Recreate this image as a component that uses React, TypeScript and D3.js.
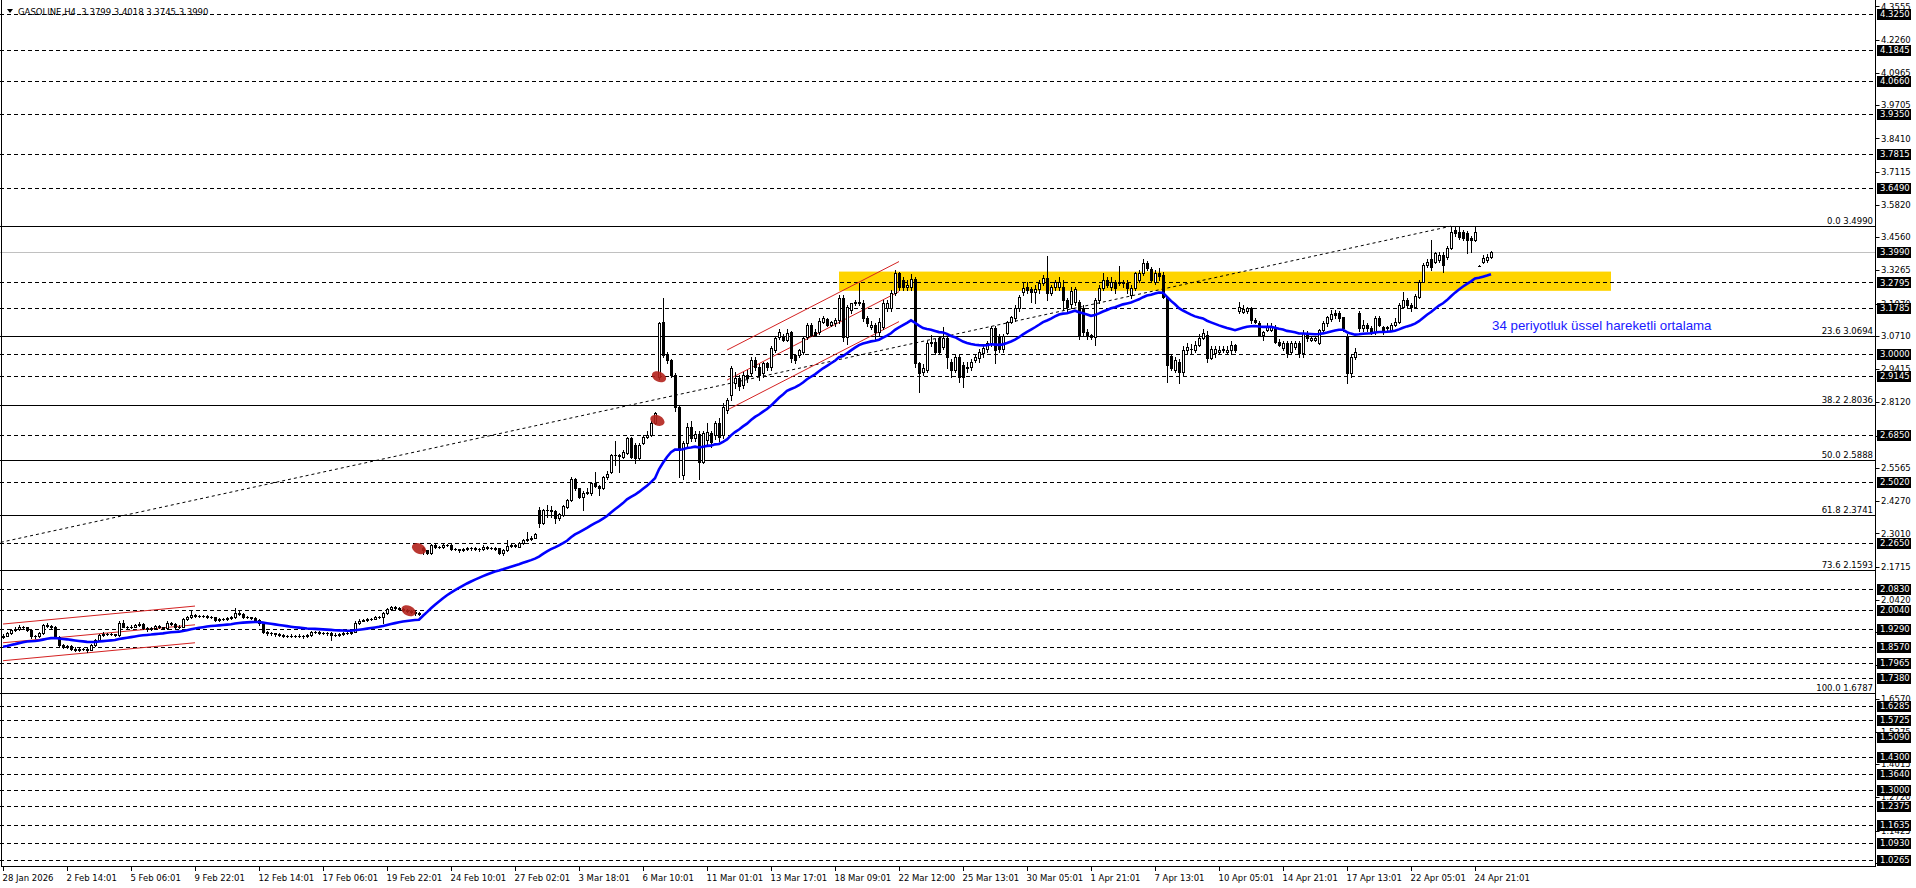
import * as d3 from 'd3';

type Bar = [number, number, number, number]; // open, high, low, close

// 28 Jan - 23 Feb (H4)
const candlesJanFeb: Bar[] = [
  [1.896, 1.908, 1.892, 1.903], [1.903, 1.916, 1.9, 1.912], [1.912, 1.929, 1.909, 1.925], [1.925, 1.935, 1.92, 1.927],
  [1.927, 1.944, 1.924, 1.938], [1.938, 1.942, 1.928, 1.935], [1.935, 1.938, 1.921, 1.925], [1.925, 1.928, 1.895, 1.9],
  [1.9, 1.906, 1.893, 1.901], [1.901, 1.916, 1.898, 1.912], [1.912, 1.95, 1.91, 1.944], [1.944, 1.952, 1.936, 1.941],
  [1.941, 1.945, 1.93, 1.936], [1.936, 1.939, 1.895, 1.899], [1.899, 1.902, 1.862, 1.866], [1.866, 1.87, 1.853, 1.86],
  [1.86, 1.867, 1.855, 1.862], [1.862, 1.866, 1.848, 1.852], [1.852, 1.857, 1.843, 1.848], [1.848, 1.853, 1.843, 1.849],
  [1.849, 1.856, 1.845, 1.851], [1.851, 1.855, 1.837, 1.848], [1.848, 1.87, 1.845, 1.866], [1.866, 1.89, 1.864, 1.886],
  [1.886, 1.91, 1.884, 1.905], [1.905, 1.915, 1.902, 1.91], [1.91, 1.914, 1.904, 1.908], [1.908, 1.913, 1.904, 1.908],
  [1.908, 1.911, 1.9, 1.905], [1.905, 1.958, 1.903, 1.951], [1.951, 1.965, 1.935, 1.938], [1.938, 1.942, 1.93, 1.935],
  [1.935, 1.944, 1.932, 1.938], [1.938, 1.95, 1.935, 1.944], [1.944, 1.955, 1.94, 1.948], [1.948, 1.951, 1.928, 1.931],
  [1.931, 1.935, 1.92, 1.927], [1.927, 1.937, 1.924, 1.931], [1.931, 1.946, 1.928, 1.94], [1.94, 1.944, 1.931, 1.935],
  [1.935, 1.938, 1.927, 1.931], [1.931, 1.958, 1.928, 1.953], [1.953, 1.957, 1.944, 1.948], [1.948, 1.951, 1.934, 1.938],
  [1.938, 1.943, 1.933, 1.938], [1.938, 1.97, 1.936, 1.966], [1.966, 1.979, 1.963, 1.974], [1.974, 2.003, 1.97, 1.983],
  [1.983, 1.986, 1.975, 1.979], [1.979, 1.984, 1.975, 1.979], [1.979, 1.984, 1.974, 1.979], [1.979, 1.983, 1.973, 1.977],
  [1.977, 1.98, 1.97, 1.974], [1.974, 1.977, 1.96, 1.964], [1.964, 1.97, 1.961, 1.966], [1.966, 1.971, 1.962, 1.966],
  [1.966, 1.974, 1.963, 1.97], [1.97, 1.978, 1.966, 1.974], [1.974, 2.009, 1.971, 1.992], [1.992, 1.997, 1.983, 1.987],
  [1.987, 1.99, 1.973, 1.977], [1.977, 1.98, 1.97, 1.974], [1.974, 1.977, 1.967, 1.971], [1.971, 1.974, 1.96, 1.964],
  [1.964, 1.967, 1.946, 1.951], [1.948, 1.95, 1.913, 1.918], [1.918, 1.921, 1.906, 1.912], [1.912, 1.917, 1.907, 1.912],
  [1.912, 1.914, 1.903, 1.909], [1.909, 1.912, 1.9, 1.906], [1.906, 1.909, 1.896, 1.903], [1.903, 1.907, 1.896, 1.903],
  [1.903, 1.908, 1.897, 1.903], [1.903, 1.907, 1.896, 1.903], [1.903, 1.908, 1.897, 1.903], [1.903, 1.906, 1.895, 1.901],
  [1.901, 1.91, 1.899, 1.905], [1.905, 1.922, 1.903, 1.918], [1.918, 1.921, 1.912, 1.916], [1.916, 1.919, 1.91, 1.914],
  [1.914, 1.917, 1.908, 1.912], [1.912, 1.917, 1.907, 1.912], [1.912, 1.915, 1.886, 1.905], [1.905, 1.912, 1.9, 1.907],
  [1.907, 1.914, 1.903, 1.909], [1.909, 1.916, 1.906, 1.912], [1.912, 1.917, 1.908, 1.912], [1.912, 1.922, 1.91, 1.918],
  [1.918, 1.958, 1.916, 1.953], [1.953, 1.966, 1.95, 1.961], [1.961, 1.968, 1.958, 1.964], [1.964, 1.97, 1.96, 1.966],
  [1.966, 1.973, 1.963, 1.969], [1.969, 1.978, 1.966, 1.974], [1.974, 1.981, 1.97, 1.977], [1.977, 1.996, 1.953, 1.992],
  [1.992, 2.01, 1.988, 2.005], [2.005, 2.02, 2.001, 2.013], [2.013, 2.018, 2.007, 2.012], [2.012, 2.015, 2.003, 2.008],
  [2.008, 2.011, 1.998, 2.003], [2.003, 2.006, 1.995, 2.0], [2.0, 2.003, 1.991, 1.996], [1.996, 2.0, 1.985, 1.99],
  [1.99, 1.995, 1.982, 1.987], [2.245, 2.25, 2.222, 2.235],
];

// 24 Feb - 6 Mar
const candlesFebMar: Bar[] = [
  [2.235, 2.238, 2.22, 2.226], [2.226, 2.26, 2.222, 2.256], [2.256, 2.26, 2.245, 2.249], [2.249, 2.253, 2.243, 2.247],
  [2.247, 2.259, 2.244, 2.255], [2.255, 2.261, 2.251, 2.256], [2.256, 2.259, 2.238, 2.242], [2.242, 2.245, 2.235, 2.239],
  [2.239, 2.242, 2.23, 2.237], [2.237, 2.245, 2.233, 2.24], [2.24, 2.248, 2.236, 2.243], [2.243, 2.248, 2.238, 2.243],
  [2.243, 2.247, 2.236, 2.241], [2.241, 2.245, 2.233, 2.239], [2.239, 2.255, 2.236, 2.25], [2.25, 2.252, 2.241, 2.246],
  [2.246, 2.25, 2.24, 2.245], [2.245, 2.248, 2.238, 2.242], [2.243, 2.246, 2.22, 2.223], [2.223, 2.24, 2.218, 2.236],
  [2.236, 2.276, 2.232, 2.252], [2.252, 2.26, 2.249, 2.255], [2.255, 2.259, 2.249, 2.254], [2.25, 2.267, 2.247, 2.263],
  [2.263, 2.28, 2.26, 2.276], [2.276, 2.306, 2.272, 2.279], [2.279, 2.29, 2.275, 2.285], [2.285, 2.303, 2.282, 2.299],
  [2.392, 2.405, 2.328, 2.34], [2.34, 2.398, 2.336, 2.392], [2.392, 2.412, 2.366, 2.392], [2.392, 2.408, 2.364, 2.39],
  [2.39, 2.393, 2.343, 2.36], [2.36, 2.382, 2.355, 2.377], [2.373, 2.412, 2.369, 2.408], [2.405, 2.436, 2.4, 2.431],
  [2.431, 2.52, 2.428, 2.512], [2.512, 2.518, 2.47, 2.477], [2.477, 2.48, 2.438, 2.444], [2.444, 2.466, 2.392, 2.46],
  [2.46, 2.477, 2.455, 2.461], [2.457, 2.5, 2.452, 2.496], [2.496, 2.54, 2.482, 2.486], [2.486, 2.49, 2.451, 2.477],
  [2.477, 2.525, 2.473, 2.52], [2.52, 2.545, 2.515, 2.533], [2.542, 2.612, 2.538, 2.607], [2.607, 2.661, 2.568, 2.607],
  [2.607, 2.612, 2.542, 2.604], [2.6, 2.627, 2.594, 2.62], [2.616, 2.677, 2.612, 2.672], [2.672, 2.676, 2.594, 2.6],
  [2.646, 2.652, 2.574, 2.594], [2.594, 2.652, 2.59, 2.646], [2.652, 2.683, 2.648, 2.678], [2.678, 2.7, 2.672, 2.684],
  [2.685, 2.738, 2.68, 2.733], [2.73, 2.775, 2.726, 2.769],
];

// 6 Mar - 27 Mar
const candlesMarch: Bar[] = [
  [2.912, 3.125, 2.905, 3.12], [3.127, 3.218, 2.99, 2.997], [2.997, 3.01, 2.965, 2.977], [2.977, 2.98, 2.91, 2.919],
  [2.919, 2.925, 2.78, 2.795], [2.795, 2.8, 2.52, 2.626], [2.53, 2.66, 2.515, 2.652], [2.652, 2.73, 2.64, 2.717],
  [2.717, 2.74, 2.66, 2.672], [2.672, 2.7, 2.66, 2.69], [2.69, 2.7, 2.515, 2.581], [2.581, 2.7, 2.575, 2.691],
  [2.665, 2.73, 2.65, 2.697], [2.691, 2.7, 2.64, 2.659], [2.685, 2.74, 2.67, 2.73], [2.73, 2.75, 2.66, 2.678],
  [2.685, 2.81, 2.675, 2.795], [2.782, 2.83, 2.77, 2.821], [2.841, 2.955, 2.82, 2.945], [2.887, 2.93, 2.87, 2.906],
  [2.906, 2.92, 2.86, 2.876], [2.88, 2.93, 2.87, 2.919], [2.919, 2.94, 2.89, 2.906], [2.925, 2.99, 2.92, 2.977],
  [2.977, 2.99, 2.94, 2.951], [2.951, 2.96, 2.9, 2.919], [2.925, 2.97, 2.91, 2.964], [2.964, 2.97, 2.94, 2.951],
  [2.951, 3.03, 2.94, 3.023], [3.016, 3.07, 3.01, 3.062], [3.068, 3.1, 3.06, 3.088], [3.071, 3.08, 3.05, 3.055],
  [3.055, 3.1, 3.05, 3.084], [3.088, 3.09, 2.97, 2.984], [2.997, 3.0, 2.965, 2.977], [2.997, 3.02, 2.99, 3.016],
  [3.01, 3.07, 3.0, 3.062], [3.068, 3.12, 3.06, 3.114], [3.114, 3.12, 3.07, 3.075], [3.088, 3.1, 3.07, 3.075],
  [3.088, 3.14, 3.08, 3.129], [3.127, 3.15, 3.12, 3.14], [3.136, 3.14, 3.11, 3.114], [3.114, 3.13, 3.11, 3.127],
  [3.12, 3.14, 3.11, 3.133], [3.133, 3.23, 3.12, 3.218], [3.218, 3.23, 3.05, 3.068], [3.068, 3.19, 3.04, 3.185],
  [3.172, 3.2, 3.16, 3.198], [3.205, 3.21, 3.19, 3.198], [3.198, 3.276, 3.19, 3.205], [3.198, 3.21, 3.13, 3.14],
  [3.14, 3.15, 3.11, 3.12], [3.107, 3.13, 3.1, 3.114], [3.114, 3.12, 3.06, 3.088], [3.088, 3.14, 3.07, 3.127],
  [3.107, 3.21, 3.1, 3.198], [3.179, 3.21, 3.17, 3.198], [3.179, 3.25, 3.17, 3.237], [3.237, 3.33, 3.23, 3.315],
  [3.315, 3.32, 3.25, 3.263], [3.289, 3.3, 3.25, 3.263], [3.263, 3.29, 3.25, 3.27], [3.263, 3.312, 3.25, 3.292],
  [3.292, 3.3, 2.95, 2.964], [2.964, 2.97, 2.853, 2.925], [2.932, 2.96, 2.92, 2.945], [2.938, 3.05, 2.93, 3.042],
  [3.042, 3.075, 3.03, 3.049], [3.049, 3.06, 3.0, 3.01],
];

// 27 Mar - 27 Apr
const candlesApril: Bar[] = [
  [3.062, 3.07, 3.0, 3.01], [3.029, 3.105, 3.02, 3.062], [3.062, 3.07, 2.945, 2.99], [2.971, 2.98, 2.912, 2.938],
  [2.938, 3.0, 2.93, 2.988], [2.988, 3.0, 2.893, 2.912], [2.958, 2.97, 2.873, 2.912], [2.945, 2.97, 2.93, 2.951],
  [2.951, 2.98, 2.94, 2.971], [2.977, 3.0, 2.97, 2.99], [2.984, 3.02, 2.97, 3.01], [3.003, 3.03, 2.99, 3.023],
  [3.019, 3.05, 3.01, 3.042], [3.042, 3.11, 3.03, 3.101], [3.101, 3.11, 2.964, 3.016], [3.071, 3.08, 3.01, 3.019],
  [3.019, 3.08, 3.01, 3.071], [3.084, 3.13, 3.08, 3.127], [3.127, 3.15, 3.12, 3.146], [3.14, 3.19, 3.13, 3.179],
  [3.179, 3.23, 3.17, 3.224], [3.244, 3.281, 3.23, 3.257], [3.263, 3.283, 3.24, 3.25], [3.253, 3.26, 3.205, 3.244],
  [3.244, 3.27, 3.198, 3.253], [3.253, 3.29, 3.24, 3.276], [3.276, 3.31, 3.27, 3.296], [3.296, 3.383, 3.211, 3.237],
  [3.237, 3.27, 3.23, 3.26], [3.26, 3.29, 3.25, 3.283], [3.26, 3.3, 3.25, 3.283], [3.26, 3.29, 3.172, 3.211],
  [3.211, 3.22, 3.17, 3.182], [3.196, 3.26, 3.18, 3.247], [3.205, 3.26, 3.19, 3.253], [3.205, 3.21, 3.06, 3.071],
  [3.179, 3.19, 3.075, 3.088], [3.088, 3.1, 3.06, 3.071], [3.075, 3.08, 3.06, 3.068], [3.068, 3.22, 3.036, 3.211],
  [3.211, 3.27, 3.2, 3.257], [3.257, 3.315, 3.25, 3.289], [3.289, 3.3, 3.26, 3.27], [3.263, 3.3, 3.25, 3.283],
  [3.279, 3.29, 3.24, 3.257], [3.276, 3.344, 3.27, 3.283], [3.276, 3.29, 3.26, 3.283], [3.279, 3.29, 3.24, 3.257],
  [3.231, 3.27, 3.22, 3.257], [3.257, 3.32, 3.25, 3.315], [3.289, 3.33, 3.28, 3.318], [3.318, 3.37, 3.31, 3.357],
  [3.357, 3.365, 3.33, 3.335], [3.331, 3.34, 3.28, 3.289], [3.283, 3.33, 3.275, 3.315], [3.315, 3.335, 3.29, 3.305],
  [3.309, 3.32, 3.218, 3.224], [3.224, 3.226, 2.893, 2.958], [2.993, 3.0, 2.94, 2.945], [2.938, 2.99, 2.93, 2.977],
  [2.971, 2.98, 2.886, 2.932], [2.932, 3.03, 2.92, 3.016], [3.016, 3.045, 3.0, 3.029], [3.019, 3.04, 3.0, 3.021],
  [3.016, 3.05, 3.01, 3.036], [3.036, 3.08, 3.03, 3.065], [3.065, 3.1, 3.06, 3.084], [3.075, 3.09, 2.97, 2.984],
  [2.984, 3.03, 2.98, 3.019], [3.003, 3.03, 2.99, 3.019], [3.01, 3.03, 3.0, 3.016], [3.016, 3.03, 3.01, 3.019],
  [3.01, 3.03, 3.0, 3.016], [3.016, 3.05, 3.0, 3.036], [3.036, 3.04, 3.01, 3.016], [3.17, 3.205, 3.16, 3.183],
  [3.166, 3.19, 3.16, 3.175], [3.17, 3.185, 3.16, 3.179], [3.179, 3.185, 3.12, 3.133], [3.133, 3.14, 3.12, 3.127],
  [3.12, 3.13, 3.07, 3.075], [3.075, 3.09, 3.055, 3.088], [3.094, 3.12, 3.09, 3.107], [3.094, 3.12, 3.09, 3.107],
  [3.107, 3.113, 3.042, 3.049], [3.049, 3.06, 3.03, 3.036], [3.023, 3.05, 3.015, 3.042], [3.042, 3.05, 2.99, 3.003],
  [3.01, 3.05, 3.0, 3.042], [3.029, 3.05, 3.02, 3.042], [3.042, 3.05, 2.99, 3.003], [3.003, 3.094, 2.99, 3.081],
  [3.081, 3.09, 3.05, 3.062], [3.055, 3.07, 3.05, 3.062], [3.055, 3.07, 3.05, 3.062], [3.042, 3.1, 3.04, 3.094],
  [3.094, 3.13, 3.09, 3.12], [3.12, 3.15, 3.11, 3.143], [3.136, 3.172, 3.13, 3.156], [3.162, 3.172, 3.14, 3.153],
  [3.159, 3.17, 3.13, 3.14], [3.143, 3.146, 3.09, 3.101], [3.071, 3.08, 2.886, 2.925], [2.925, 3.0, 2.91, 2.99],
  [2.99, 3.023, 2.98, 3.01], [3.159, 3.17, 3.09, 3.101], [3.101, 3.133, 3.09, 3.114], [3.114, 3.12, 3.09, 3.101],
  [3.101, 3.11, 3.08, 3.088], [3.088, 3.15, 3.08, 3.14], [3.14, 3.15, 3.11, 3.114], [3.107, 3.11, 3.08, 3.088],
  [3.107, 3.11, 3.09, 3.101], [3.094, 3.12, 3.09, 3.114], [3.114, 3.14, 3.11, 3.127], [3.127, 3.2, 3.12, 3.192],
  [3.185, 3.244, 3.18, 3.211], [3.211, 3.22, 3.18, 3.192], [3.192, 3.2, 3.17, 3.185], [3.185, 3.235, 3.18, 3.227],
  [3.224, 3.29, 3.22, 3.283], [3.283, 3.355, 3.28, 3.348], [3.348, 3.37, 3.34, 3.361], [3.37, 3.445, 3.33, 3.341],
  [3.361, 3.4, 3.355, 3.393], [3.367, 3.4, 3.36, 3.387], [3.387, 3.4, 3.322, 3.348], [3.38, 3.42, 3.37, 3.413],
  [3.413, 3.497, 3.41, 3.477], [3.484, 3.499, 3.46, 3.471], [3.477, 3.499, 3.45, 3.458], [3.477, 3.485, 3.445, 3.452],
  [3.471, 3.48, 3.393, 3.445], [3.452, 3.46, 3.4, 3.445], [3.445, 3.499, 3.44, 3.477], [3.344, 3.346, 3.343, 3.345],
  [3.361, 3.385, 3.355, 3.374], [3.367, 3.39, 3.36, 3.38], [3.3799, 3.4018, 3.3745, 3.399],
];

const timeLabels = [
  '28 Jan 2026', '2 Feb 14:01', '5 Feb 06:01', '9 Feb 22:01', '12 Feb 14:01', '17 Feb 06:01',
  '19 Feb 22:01', '24 Feb 10:01', '27 Feb 02:01', '3 Mar 18:01', '6 Mar 10:01', '11 Mar 01:01',
  '13 Mar 17:01', '18 Mar 09:01', '22 Mar 12:00', '25 Mar 13:01', '30 Mar 05:01', '1 Apr 21:01',
  '7 Apr 13:01', '10 Apr 05:01', '14 Apr 21:01', '17 Apr 13:01', '22 Apr 05:01', '24 Apr 21:01',
];
const barsPerLabel = 16;

const scaleLabels = [
  4.3555, 4.226, 4.0965, 3.9705, 3.841, 3.7115, 3.582, 3.456, 3.3265, 3.197, 3.071, 2.9415, 2.812, 2.6825,
  2.5565, 2.427, 2.301, 2.1715, 2.042, 1.916, 1.7865, 1.657, 1.5275, 1.4015, 1.272, 1.1425, 1.0165,
];

const levelLines = [
  4.325, 4.1845, 4.066, 3.935, 3.7815, 3.649, 3.2795, 3.1785, 3.0, 2.9145, 2.685, 2.502, 2.265, 2.083, 2.004,
  1.929, 1.857, 1.7965, 1.738, 1.6285, 1.5725, 1.509, 1.43, 1.364, 1.3, 1.2375, 1.1635, 1.093, 1.0265,
];

const fibLevels: [number, number][] = [
  [0, 3.499], [23.6, 3.0694], [38.2, 2.8036], [50, 2.5888], [61.8, 2.3741], [73.6, 2.1593], [100, 1.6787],
];
const fibAnchors: [number, number][] = [[-173.5, 1.6787], [362, 3.499]];

const bidPrice = 3.399;
const emaPeriod = 34;
const emaSeed = 1.857;
const emaCaption = '34 periyotluk üssel hareketli ortalama';
const emaCaptionAt: [number, number] = [372.25, 3.114];

const channels = [
  { from: 0, to: 48, starts: [1.948, 1.875, 1.805], ends: [2.018, 1.945, 1.875] },
  { from: 181, to: 224, starts: [3.016, 2.899, 2.782], ends: [3.361, 3.244, 3.127] },
];
const zone = { from: 209, to: 402, top: 3.322, bottom: 3.247 };
const signalMarks: [number, number][] = [[164, 2.912], [163.6, 2.742], [104, 2.242], [101.4, 2.0]];
const title = 'GASOLINE,H4  3.3799 3.4018 3.3745 3.3990';

const W = 1916;
const H = 888;
const RIGHT = 1875.5;
const BOTTOM = 866.5;
const UI_FONT = "'DejaVu Sans', Verdana, sans-serif";
const UI_SIZE = 8.5;
const CAPTION_FONT = "'Liberation Sans', Arial, sans-serif";

export default function App() {
  const bars = [...candlesJanFeb, ...candlesFebMar, ...candlesMarch, ...candlesApril];

  const x = d3.scaleLinear().domain([0, 1]).range([3, 7]);
  const y = d3.scaleLinear().domain([1.0265, 4.325]).range([860.4, 14.3]);
  const py = (p: number) => Math.round(y(p)) + 0.5;

  // exponential moving average on closes
  const alpha = 2 / (emaPeriod + 1);
  const ema: number[] = [];
  bars.reduce((prev, b) => {
    const v = prev + alpha * (b[3] - prev);
    ema.push(v);
    return v;
  }, emaSeed);

  const emaPath = d3
    .line<number>()
    .x((_, i) => x(i))
    .y((v) => y(v))(ema);

  const fibPath = d3
    .line<[number, number]>()
    .x((d) => x(d[0]))
    .y((d) => y(d[1]))(fibAnchors);

  const dash = '4,3';

  return (
    <svg
      width={W}
      height={H}
      style={{ position: 'absolute', left: 0, top: 0, background: '#fff' }}
      fontFamily={UI_FONT}
    >
      <defs>
        <clipPath id="plot">
          <rect x={0} y={0} width={RIGHT} height={BOTTOM} />
        </clipPath>
      </defs>

      <g clipPath="url(#plot)">
        {/* support / resistance zone */}
        <rect
          x={x(zone.from)}
          y={y(zone.top)}
          width={x(zone.to) - x(zone.from)}
          height={y(zone.bottom) - y(zone.top)}
          fill="#ffd400"
        />

        {levelLines.map((p) => (
          <line key={p} x1={0} x2={RIGHT} y1={py(p)} y2={py(p)} stroke="#000" strokeDasharray={dash} />
        ))}

        {fibLevels.map(([, p]) => (
          <line key={p} x1={0} x2={RIGHT} y1={py(p)} y2={py(p)} stroke="#000" />
        ))}

        <line x1={0} x2={RIGHT} y1={py(bidPrice)} y2={py(bidPrice)} stroke="#c0c0c0" />

        <path d={fibPath ?? ''} fill="none" stroke="#000" strokeDasharray="3,3" />

        {channels.map((c, ci) =>
          c.starts.map((s, k) => (
            <line
              key={`${ci}-${k}`}
              x1={x(c.from)}
              y1={y(s)}
              x2={x(c.to)}
              y2={y(c.ends[k])}
              stroke="#d42222"
              strokeWidth={1}
            />
          ))
        )}

        {bars.map(([o, h, l, c], i) => {
          const xc = Math.round(x(i));
          const yo = Math.round(y(o));
          const yc = Math.round(y(c));
          const top = Math.min(yo, yc);
          const bot = Math.max(yo, yc);
          const bull = c >= o;
          return (
            <g key={i}>
              <line
                x1={xc + 0.5}
                x2={xc + 0.5}
                y1={Math.round(y(h))}
                y2={Math.round(y(l)) + 1}
                stroke="#000"
              />
              {bot - top < 1 ? (
                <line x1={xc - 1} x2={xc + 2} y1={top + 0.5} y2={top + 0.5} stroke="#000" />
              ) : bull ? (
                <rect x={xc - 0.5} y={top + 0.5} width={2} height={bot - top} fill="#fff" stroke="#000" />
              ) : (
                <rect x={xc - 1} y={top} width={3} height={bot - top + 1} fill="#000" />
              )}
            </g>
          );
        })}

        <path d={emaPath ?? ''} fill="none" stroke="#0000ff" strokeWidth={2.6} />

        {signalMarks.map(([i, p], k) => (
          <ellipse
            key={k}
            cx={x(i)}
            cy={y(p)}
            rx={7.5}
            ry={5}
            transform={`rotate(25 ${x(i)} ${y(p)})`}
            fill="#b3221c"
            opacity={0.9}
          />
        ))}

        <text
          x={x(emaCaptionAt[0])}
          y={y(emaCaptionAt[1])}
          dy="0.35em"
          fontSize={13.3}
          fontFamily={CAPTION_FONT}
          fill="#1a1aff"
        >
          {emaCaption}
        </text>

        {fibLevels.map(([pct, p]) => (
          <text key={pct} x={RIGHT - 2.5} y={py(p) - 3} textAnchor="end" fontSize={UI_SIZE} fill="#000">
            {`${pct.toFixed(1)} ${p.toFixed(4)}`}
          </text>
        ))}
      </g>

      {/* title */}
      <path d="M7,9 L13,9 L10,13 Z" fill="#000" />
      <text x={18} y={14.5} fontSize={UI_SIZE} fill="#000" style={{ whiteSpace: 'pre' }}>
        {title}
      </text>

      {/* frame */}
      <line x1={1.5} x2={1.5} y1={0} y2={BOTTOM} stroke="#000" />
      <line x1={RIGHT} x2={RIGHT} y1={0} y2={BOTTOM + 0.5} stroke="#000" />
      <line x1={1} x2={RIGHT} y1={BOTTOM} y2={BOTTOM} stroke="#000" />

      {/* price scale */}
      {scaleLabels.map((p) => (
        <g key={p}>
          <line x1={RIGHT} x2={RIGHT + 4} y1={py(p)} y2={py(p)} stroke="#000" />
          <text x={1881} y={y(p)} dy="0.36em" fontSize={UI_SIZE} fill="#000">
            {p.toFixed(4)}
          </text>
        </g>
      ))}
      {[...levelLines, bidPrice].map((p) => (
        <g key={`b${p}`}>
          <rect x={1877} y={Math.round(y(p)) - 5} width={34} height={11} fill="#000" />
          <text x={1880} y={y(p)} dy="0.36em" fontSize={UI_SIZE} fill="#fff">
            {p.toFixed(4)}
          </text>
        </g>
      ))}

      {/* time scale */}
      {timeLabels.map((t, k) => {
        const xt = Math.round(x(k * barsPerLabel)) + 0.5;
        return (
          <g key={t}>
            <line x1={xt} x2={xt} y1={BOTTOM} y2={BOTTOM + 4.5} stroke="#000" />
            <text x={xt - 1} y={881} fontSize={UI_SIZE} fill="#000">
              {t}
            </text>
          </g>
        );
      })}
    </svg>
  );
}
